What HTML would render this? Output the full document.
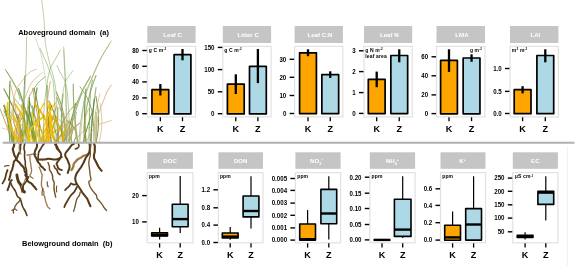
<!DOCTYPE html>
<html><head><meta charset="utf-8"><style>
html,body{margin:0;padding:0;background:#fff;width:575px;height:266px;overflow:hidden;position:relative;font-family:"Liberation Sans", sans-serif;}
</style></head><body>
<svg width="575" height="266" viewBox="0 0 575 266" style="position:absolute;left:0;top:0;will-change:transform" font-family='"Liberation Sans", sans-serif'>
<rect width="575" height="266" fill="#fff"/>
<g fill="none" stroke-linecap="round">
<path d="M-0.8,106.8 C-0.2,108.3 1.6,112.7 2.8,115.6 C4.0,118.5 5.1,121.5 6.2,124.4 C7.3,127.3 8.4,130.3 9.4,133.2 C10.3,136.1 11.4,140.5 11.8,142.0" stroke="#a08a3a" stroke-width="0.9" stroke-opacity="0.85"/>
<path d="M88.4,108.9 C87.9,110.3 86.3,114.4 85.5,117.2 C84.7,119.9 84.1,122.7 83.8,125.5 C83.4,128.2 83.4,131.0 83.6,133.7 C83.7,136.5 84.5,140.6 84.7,142.0" stroke="#d8b278" stroke-width="1.0" stroke-opacity="0.9"/>
<path d="M14.5,100.7 C14.3,102.4 13.3,107.6 13.1,111.0 C13.0,114.5 13.0,117.9 13.7,121.3 C14.3,124.8 15.7,128.2 17.1,131.7 C18.5,135.1 21.2,140.3 22.1,142.0" stroke="#b09040" stroke-width="1.1" stroke-opacity="0.85"/>
<path d="M56.3,91.8 C57.1,93.9 59.7,100.2 61.0,104.3 C62.3,108.5 63.4,112.7 64.0,116.9 C64.7,121.1 64.9,125.3 64.8,129.4 C64.8,133.6 63.8,139.9 63.6,142.0" stroke="#72983c" stroke-width="1.0" stroke-opacity="0.95"/>
<path d="M32.3,106.0 C32.7,107.5 33.9,112.0 34.4,115.0 C35.0,118.0 35.5,121.0 35.8,124.0 C36.1,127.0 36.2,130.0 36.1,133.0 C36.1,136.0 35.7,140.5 35.6,142.0" stroke="#98b070" stroke-width="1.2" stroke-opacity="0.95"/>
<path d="M25.5,113.5 C24.7,114.7 21.7,118.3 20.3,120.6 C18.9,123.0 17.7,125.4 17.0,127.8 C16.3,130.1 16.1,132.5 16.2,134.9 C16.3,137.3 17.5,140.8 17.7,142.0" stroke="#b09040" stroke-width="1.1" stroke-opacity="0.85"/>
<path d="M57.8,107.6 C57.8,109.0 57.7,113.3 57.7,116.2 C57.7,119.1 57.7,121.9 57.8,124.8 C57.9,127.7 58.1,130.5 58.3,133.4 C58.4,136.3 58.8,140.6 58.8,142.0" stroke="#8c8a40" stroke-width="1.1" stroke-opacity="0.85"/>
<path d="M34.1,88.2 C34.6,90.4 36.2,97.2 37.1,101.6 C37.9,106.1 38.6,110.6 39.0,115.1 C39.5,119.6 39.6,124.1 39.6,128.5 C39.6,133.0 39.1,139.8 39.0,142.0" stroke="#72983c" stroke-width="1.1" stroke-opacity="0.95"/>
<path d="M96.0,75.5 C95.1,78.2 91.9,86.6 90.3,92.1 C88.7,97.6 87.4,103.2 86.4,108.7 C85.5,114.3 85.0,119.8 84.8,125.4 C84.6,130.9 85.3,139.2 85.4,142.0" stroke="#98b070" stroke-width="1.1" stroke-opacity="0.95"/>
<path d="M3.8,104.0 C5.0,105.6 9.1,110.3 11.3,113.5 C13.4,116.6 15.3,119.8 16.6,123.0 C18.0,126.2 18.9,129.3 19.3,132.5 C19.7,135.7 19.1,140.4 19.1,142.0" stroke="#d8b278" stroke-width="0.8" stroke-opacity="0.9"/>
<path d="M59.0,119.0 C59.7,120.0 61.8,122.9 62.7,124.8 C63.7,126.7 64.5,128.6 64.9,130.5 C65.3,132.4 65.3,134.3 65.0,136.3 C64.7,138.2 63.6,141.0 63.4,142.0" stroke="#d8b278" stroke-width="0.8" stroke-opacity="0.9"/>
<path d="M75.5,103.7 C75.1,105.3 74.0,110.1 73.2,113.3 C72.3,116.4 71.5,119.6 70.5,122.8 C69.5,126.0 68.3,129.2 67.2,132.4 C66.1,135.6 64.6,140.4 64.1,142.0" stroke="#72983c" stroke-width="1.2" stroke-opacity="0.95"/>
<path d="M37.1,87.8 C36.7,90.1 35.6,96.9 35.1,101.4 C34.5,105.9 33.9,110.4 33.6,114.9 C33.2,119.4 32.9,123.9 32.7,128.5 C32.6,133.0 32.7,139.7 32.6,142.0" stroke="#72983c" stroke-width="1.2" stroke-opacity="0.95"/>
<path d="M48.8,101.1 C49.6,102.8 52.2,107.9 53.5,111.3 C54.8,114.7 56.0,118.1 56.6,121.6 C57.3,125.0 57.6,128.4 57.6,131.8 C57.5,135.2 56.7,140.3 56.5,142.0" stroke="#72983c" stroke-width="1.2" stroke-opacity="0.95"/>
<path d="M72.4,122.1 C72.5,123.0 72.9,125.4 72.9,127.1 C72.9,128.8 72.8,130.4 72.5,132.1 C72.1,133.7 71.5,135.4 70.8,137.0 C70.2,138.7 69.0,141.2 68.6,142.0" stroke="#c49650" stroke-width="1.1" stroke-opacity="0.9"/>
<path d="M50.3,107.5 C50.0,109.0 49.1,113.3 48.7,116.1 C48.4,119.0 48.1,121.9 48.0,124.8 C47.9,127.6 48.0,130.5 48.2,133.4 C48.4,136.3 49.0,140.6 49.2,142.0" stroke="#c49650" stroke-width="0.8" stroke-opacity="0.9"/>
<path d="M20.4,111.4 C20.0,112.7 18.4,116.5 18.0,119.1 C17.6,121.6 17.3,124.2 17.8,126.7 C18.3,129.3 19.5,131.8 20.8,134.4 C22.2,136.9 25.0,140.7 25.9,142.0" stroke="#a08a3a" stroke-width="0.9" stroke-opacity="0.85"/>
<path d="M35.3,123.8 C36.0,124.5 38.5,126.8 39.7,128.3 C40.9,129.8 41.9,131.4 42.5,132.9 C43.1,134.4 43.2,135.9 43.1,137.4 C43.0,139.0 42.1,141.2 41.9,142.0" stroke="#d8b278" stroke-width="1.1" stroke-opacity="0.9"/>
<path d="M96.0,87.6 C95.7,89.9 94.8,96.7 94.2,101.2 C93.7,105.7 93.1,110.3 92.7,114.8 C92.2,119.3 91.7,123.9 91.4,128.4 C91.1,132.9 90.8,139.7 90.6,142.0" stroke="#98b070" stroke-width="1.1" stroke-opacity="0.95"/>
<path d="M59.9,108.1 C60.5,109.5 62.3,113.7 63.3,116.6 C64.2,119.4 65.1,122.2 65.6,125.0 C66.1,127.9 66.4,130.7 66.5,133.5 C66.6,136.3 66.2,140.6 66.1,142.0" stroke="#d8b278" stroke-width="1.1" stroke-opacity="0.9"/>
<path d="M59.1,128.7 C58.2,129.2 55.4,130.9 53.8,132.0 C52.2,133.1 50.7,134.2 49.4,135.3 C48.0,136.4 46.8,137.6 45.9,138.7 C45.0,139.8 44.3,141.4 44.0,142.0" stroke="#f2c000" stroke-width="1.8" stroke-opacity="0.95"/>
<path d="M43.7,103.5 C43.0,105.1 40.5,109.9 39.3,113.1 C38.1,116.3 37.1,119.5 36.4,122.7 C35.8,125.9 35.5,129.2 35.4,132.4 C35.4,135.6 36.1,140.4 36.3,142.0" stroke="#f2c000" stroke-width="1.2" stroke-opacity="0.95"/>
<path d="M49.4,102.8 C49.5,104.4 50.1,109.3 50.1,112.6 C50.1,115.8 50.0,119.1 49.4,122.4 C48.8,125.7 47.6,128.9 46.4,132.2 C45.2,135.5 43.0,140.4 42.3,142.0" stroke="#f2c000" stroke-width="1.8" stroke-opacity="0.95"/>
<path d="M21.8,105.7 C22.7,107.2 25.5,111.8 27.0,114.8 C28.6,117.8 30.0,120.8 31.0,123.9 C32.1,126.9 32.9,129.9 33.4,132.9 C33.8,136.0 33.8,140.5 33.9,142.0" stroke="#f2c000" stroke-width="1.8" stroke-opacity="0.95"/>
<path d="M64.6,131.8 C64.1,132.2 62.6,133.5 61.7,134.4 C60.9,135.2 60.1,136.1 59.6,136.9 C59.0,137.8 58.6,138.6 58.3,139.5 C58.0,140.3 58.1,141.6 58.0,142.0" stroke="#e8b206" stroke-width="1.8" stroke-opacity="0.95"/>
<path d="M8.0,126.1 C8.5,126.7 10.0,128.7 11.1,130.0 C12.2,131.4 13.2,132.7 14.4,134.0 C15.6,135.4 17.1,136.7 18.3,138.0 C19.6,139.3 21.3,141.3 21.9,142.0" stroke="#f2c000" stroke-width="1.8" stroke-opacity="0.95"/>
<path d="M15.3,104.2 C16.3,105.7 19.3,110.5 21.1,113.6 C22.8,116.8 24.3,119.9 25.5,123.1 C26.8,126.2 27.8,129.4 28.4,132.5 C29.1,135.7 29.3,140.4 29.5,142.0" stroke="#f2c000" stroke-width="1.8" stroke-opacity="0.95"/>
<path d="M13.4,115.0 C13.9,116.1 15.5,119.5 16.3,121.7 C17.1,124.0 17.9,126.2 18.4,128.5 C18.9,130.7 19.3,133.0 19.4,135.2 C19.6,137.5 19.4,140.9 19.4,142.0" stroke="#f2c000" stroke-width="1.5" stroke-opacity="0.95"/>
<path d="M48.5,113.2 C49.6,114.4 53.2,118.0 55.1,120.4 C57.1,122.8 58.8,125.2 60.0,127.6 C61.2,130.0 62.1,132.4 62.6,134.8 C63.0,137.2 62.7,140.8 62.7,142.0" stroke="#e8b206" stroke-width="1.8" stroke-opacity="0.95"/>
<path d="M53.7,117.2 C53.0,118.2 50.6,121.3 49.3,123.4 C47.9,125.5 46.6,127.5 45.5,129.6 C44.3,131.7 43.2,133.7 42.4,135.8 C41.6,137.9 40.9,141.0 40.6,142.0" stroke="#e8b206" stroke-width="1.5" stroke-opacity="0.95"/>
<path d="M82.0,92.5 C81.3,94.6 79.0,100.8 77.6,104.9 C76.3,109.0 75.0,113.1 73.8,117.3 C72.6,121.4 71.4,125.5 70.6,129.6 C69.7,133.8 68.8,139.9 68.4,142.0" stroke="#98b070" stroke-width="1.1" stroke-opacity="0.95"/>
<path d="M47.1,85.6 C47.1,88.0 47.0,95.0 47.1,99.7 C47.2,104.4 47.3,109.1 47.7,113.8 C48.0,118.5 48.6,123.2 49.2,127.9 C49.7,132.6 50.8,139.7 51.1,142.0" stroke="#5a8430" stroke-width="1.0" stroke-opacity="0.95"/>
<path d="M64.1,113.3 C64.0,114.5 63.9,118.1 64.0,120.5 C64.0,122.9 64.1,125.3 64.3,127.7 C64.6,130.1 65.0,132.4 65.4,134.8 C65.8,137.2 66.5,140.8 66.7,142.0" stroke="#d8b278" stroke-width="1.0" stroke-opacity="0.9"/>
<path d="M54.6,122.8 C54.4,123.6 53.8,126.0 53.3,127.6 C52.8,129.2 52.2,130.8 51.5,132.4 C50.9,134.0 50.0,135.6 49.2,137.2 C48.4,138.8 47.1,141.2 46.7,142.0" stroke="#d8b278" stroke-width="1.1" stroke-opacity="0.9"/>
<path d="M10.7,84.9 C11.2,87.2 13.0,94.4 13.9,99.1 C14.8,103.9 15.7,108.7 16.3,113.4 C17.0,118.2 17.5,123.0 17.8,127.7 C18.1,132.5 18.0,139.6 18.1,142.0" stroke="#d8b278" stroke-width="1.0" stroke-opacity="0.9"/>
<path d="M76.9,102.4 C75.5,104.1 70.9,109.0 68.6,112.3 C66.3,115.6 64.3,118.9 63.1,122.2 C61.9,125.5 61.4,128.8 61.5,132.1 C61.5,135.4 63.0,140.4 63.4,142.0" stroke="#a08a3a" stroke-width="0.9" stroke-opacity="0.85"/>
<path d="M56.4,106.1 C55.9,107.6 54.7,112.1 53.8,115.1 C53.0,118.1 52.1,121.1 51.2,124.1 C50.3,127.1 49.2,130.0 48.3,133.0 C47.4,136.0 46.2,140.5 45.8,142.0" stroke="#c49650" stroke-width="1.0" stroke-opacity="0.9"/>
<path d="M51.8,105.2 C51.3,106.7 49.5,111.3 48.9,114.4 C48.3,117.4 48.0,120.5 48.3,123.6 C48.6,126.7 49.7,129.7 50.9,132.8 C52.2,135.9 54.9,140.5 55.6,142.0" stroke="#8c8a40" stroke-width="1.1" stroke-opacity="0.85"/>
<path d="M32.9,110.7 C32.7,112.0 31.9,115.9 31.6,118.5 C31.3,121.1 31.0,123.7 31.0,126.3 C31.1,128.9 31.3,131.6 31.7,134.2 C32.0,136.8 32.9,140.7 33.2,142.0" stroke="#72983c" stroke-width="1.0" stroke-opacity="0.95"/>
<path d="M94.3,98.8 C94.1,100.6 93.5,106.0 93.2,109.6 C92.8,113.2 92.5,116.8 92.2,120.4 C91.9,124.0 91.6,127.6 91.4,131.2 C91.2,134.8 91.1,140.2 91.0,142.0" stroke="#5a8430" stroke-width="1.1" stroke-opacity="0.95"/>
<path d="M28.7,106.7 C29.0,108.2 29.9,112.6 30.6,115.6 C31.2,118.5 31.8,121.4 32.4,124.4 C33.0,127.3 33.7,130.2 34.3,133.2 C34.9,136.1 35.6,140.5 35.9,142.0" stroke="#5a8430" stroke-width="1.2" stroke-opacity="0.95"/>
<path d="M66.4,120.1 C67.4,121.0 70.6,123.7 72.1,125.5 C73.6,127.4 74.9,129.2 75.6,131.0 C76.2,132.9 76.3,134.7 76.0,136.5 C75.7,138.3 74.1,141.1 73.8,142.0" stroke="#a08a3a" stroke-width="1.1" stroke-opacity="0.85"/>
<path d="M100.0,103.3 C100.2,104.9 101.1,109.8 101.4,113.0 C101.7,116.2 101.9,119.4 101.9,122.7 C101.8,125.9 101.5,129.1 101.1,132.3 C100.7,135.6 99.7,140.4 99.4,142.0" stroke="#d8b278" stroke-width="0.8" stroke-opacity="0.9"/>
<path d="M69.3,123.2 C69.1,124.0 68.5,126.4 68.4,127.9 C68.2,129.5 68.2,131.1 68.4,132.6 C68.7,134.2 69.2,135.7 69.9,137.3 C70.5,138.9 71.7,141.2 72.1,142.0" stroke="#d8b278" stroke-width="1.0" stroke-opacity="0.9"/>
<path d="M24.3,106.7 C24.7,108.2 26.3,112.6 26.8,115.6 C27.3,118.5 27.6,121.4 27.2,124.4 C26.8,127.3 25.6,130.2 24.3,133.2 C23.0,136.1 20.2,140.5 19.4,142.0" stroke="#8c8a40" stroke-width="1.1" stroke-opacity="0.85"/>
<path d="M69.8,120.1 C69.7,121.0 69.5,123.8 69.4,125.6 C69.3,127.4 69.3,129.2 69.3,131.1 C69.2,132.9 69.3,134.7 69.3,136.5 C69.4,138.4 69.6,141.1 69.6,142.0" stroke="#d8b278" stroke-width="1.0" stroke-opacity="0.9"/>
<path d="M92.6,111.5 C92.1,112.8 90.8,116.6 90.0,119.1 C89.1,121.7 88.3,124.2 87.5,126.7 C86.7,129.3 85.8,131.8 85.1,134.4 C84.4,136.9 83.6,140.7 83.3,142.0" stroke="#5a8430" stroke-width="1.0" stroke-opacity="0.95"/>
<path d="M17.8,114.2 C18.0,115.4 18.8,118.9 19.1,121.2 C19.5,123.5 19.9,125.8 20.1,128.1 C20.3,130.4 20.5,132.7 20.6,135.1 C20.6,137.4 20.6,140.8 20.6,142.0" stroke="#a08a3a" stroke-width="1.1" stroke-opacity="0.85"/>
<path d="M47.8,112.4 C47.9,113.6 48.2,117.3 48.5,119.8 C48.7,122.2 49.0,124.7 49.4,127.2 C49.7,129.6 50.2,132.1 50.6,134.6 C51.0,137.1 51.5,140.8 51.7,142.0" stroke="#b09040" stroke-width="0.9" stroke-opacity="0.85"/>
<path d="M29.6,102.2 C30.2,103.8 32.4,108.8 33.6,112.1 C34.8,115.5 36.0,118.8 36.9,122.1 C37.9,125.4 38.8,128.7 39.4,132.0 C40.1,135.4 40.5,140.3 40.7,142.0" stroke="#98b070" stroke-width="1.1" stroke-opacity="0.95"/>
<path d="M24.8,75.9 C24.7,78.7 24.3,87.0 24.1,92.5 C23.9,98.0 23.7,103.5 23.5,109.0 C23.3,114.5 23.1,120.0 22.9,125.5 C22.8,131.0 22.6,139.2 22.5,142.0" stroke="#5a8430" stroke-width="0.9" stroke-opacity="0.95"/>
<path d="M32.7,88.2 C33.1,90.4 34.1,97.1 34.9,101.6 C35.7,106.1 36.5,110.6 37.5,115.1 C38.5,119.6 39.7,124.1 40.8,128.5 C41.9,133.0 43.5,139.8 44.0,142.0" stroke="#c49650" stroke-width="1.0" stroke-opacity="0.9"/>
<path d="M65.2,118.0 C64.6,119.0 62.7,122.0 61.7,124.0 C60.7,126.0 59.8,128.0 59.2,130.0 C58.6,132.0 58.2,134.0 58.0,136.0 C57.9,138.0 58.2,141.0 58.2,142.0" stroke="#c49650" stroke-width="1.1" stroke-opacity="0.9"/>
<path d="M96.0,112.3 C96.0,113.5 96.1,117.2 96.1,119.7 C96.1,122.2 96.1,124.7 96.1,127.1 C96.1,129.6 96.0,132.1 96.0,134.6 C96.0,137.0 95.9,140.8 95.9,142.0" stroke="#72983c" stroke-width="1.0" stroke-opacity="0.95"/>
<path d="M73.3,84.0 C73.3,86.4 73.3,93.6 73.5,98.5 C73.7,103.3 73.9,108.1 74.3,113.0 C74.7,117.8 75.3,122.7 75.9,127.5 C76.5,132.3 77.5,139.6 77.8,142.0" stroke="#98b070" stroke-width="1.2" stroke-opacity="0.95"/>
<path d="M29.3,100.9 C29.3,102.6 29.4,107.8 29.2,111.2 C28.9,114.6 28.5,118.0 27.7,121.5 C26.9,124.9 25.5,128.3 24.2,131.7 C22.9,135.2 20.6,140.3 19.9,142.0" stroke="#8c8a40" stroke-width="1.1" stroke-opacity="0.85"/>
<path d="M79.6,123.1 C78.8,123.9 76.0,126.2 74.4,127.8 C72.8,129.4 71.3,131.0 70.0,132.5 C68.6,134.1 67.3,135.7 66.4,137.3 C65.4,138.8 64.6,141.2 64.2,142.0" stroke="#c49650" stroke-width="1.1" stroke-opacity="0.9"/>
<path d="M16.5,115.0 C16.9,116.2 18.2,119.5 18.7,121.8 C19.3,124.0 19.7,126.3 19.8,128.5 C19.9,130.8 19.6,133.0 19.2,135.3 C18.7,137.5 17.6,140.9 17.3,142.0" stroke="#b09040" stroke-width="0.9" stroke-opacity="0.85"/>
<path d="M29.5,97.8 C29.5,99.6 29.3,105.1 29.3,108.8 C29.2,112.5 29.2,116.2 29.1,119.9 C29.1,123.6 29.2,127.3 29.2,130.9 C29.2,134.6 29.3,140.2 29.4,142.0" stroke="#5a8430" stroke-width="1.0" stroke-opacity="0.95"/>
<path d="M63.2,94.0 C63.0,96.0 62.2,102.0 61.9,106.0 C61.6,110.0 61.5,114.0 61.6,118.0 C61.7,122.0 62.1,126.0 62.6,130.0 C63.0,134.0 64.1,140.0 64.4,142.0" stroke="#98b070" stroke-width="1.1" stroke-opacity="0.95"/>
<path d="M96.0,96.6 C96.3,98.5 97.4,104.1 97.8,107.9 C98.2,111.7 98.6,115.5 98.6,119.3 C98.6,123.1 98.3,126.9 98.0,130.6 C97.6,134.4 96.6,140.1 96.3,142.0" stroke="#5a8430" stroke-width="0.9" stroke-opacity="0.95"/>
<path d="M4.0,110.6 C4.5,111.9 6.3,115.9 7.3,118.5 C8.3,121.1 9.2,123.7 10.0,126.3 C10.8,128.9 11.5,131.5 12.0,134.2 C12.5,136.8 12.8,140.7 13.0,142.0" stroke="#72983c" stroke-width="1.0" stroke-opacity="0.95"/>
<path d="M100.0,93.8 C99.5,95.8 97.7,101.9 96.8,105.9 C96.0,109.9 95.2,113.9 94.8,117.9 C94.5,121.9 94.4,125.9 94.5,130.0 C94.6,134.0 95.3,140.0 95.5,142.0" stroke="#d8b278" stroke-width="0.8" stroke-opacity="0.9"/>
<path d="M95.8,124.4 C94.4,125.1 89.9,127.3 87.4,128.8 C85.0,130.3 82.8,131.7 81.1,133.2 C79.5,134.7 78.3,136.1 77.6,137.6 C76.8,139.1 77.0,141.3 76.9,142.0" stroke="#d8b278" stroke-width="0.8" stroke-opacity="0.9"/>
<path d="M76.2,112.4 C76.0,113.6 75.5,117.3 75.3,119.8 C75.1,122.3 75.0,124.7 75.1,127.2 C75.3,129.7 75.6,132.1 76.1,134.6 C76.5,137.1 77.4,140.8 77.6,142.0" stroke="#98b070" stroke-width="1.0" stroke-opacity="0.95"/>
<path d="M4.0,105.8 C4.7,107.3 6.8,111.8 7.9,114.9 C9.1,117.9 10.2,120.9 11.0,123.9 C11.9,126.9 12.6,129.9 13.0,133.0 C13.4,136.0 13.6,140.5 13.7,142.0" stroke="#72983c" stroke-width="1.1" stroke-opacity="0.95"/>
<path d="M10.0,81.2 C9.9,83.8 9.6,91.4 9.5,96.4 C9.5,101.5 9.5,106.6 9.6,111.6 C9.8,116.7 10.2,121.7 10.7,126.8 C11.1,131.9 12.0,139.5 12.2,142.0" stroke="#72983c" stroke-width="1.2" stroke-opacity="0.95"/>
<path d="M14.3,98.1 C15.7,100.0 20.2,105.4 22.7,109.1 C25.2,112.7 27.5,116.4 29.3,120.1 C31.1,123.7 32.6,127.4 33.6,131.0 C34.6,134.7 34.9,140.2 35.1,142.0" stroke="#98b070" stroke-width="0.9" stroke-opacity="0.95"/>
<path d="M18.5,88.4 C19.3,90.7 21.6,97.4 23.0,101.8 C24.5,106.3 25.9,110.8 27.4,115.2 C28.8,119.7 30.3,124.1 31.6,128.6 C32.9,133.1 34.3,139.8 34.9,142.0" stroke="#72983c" stroke-width="1.1" stroke-opacity="0.95"/>
<path d="M4.0,88.9 C5.1,91.1 8.7,97.8 10.7,102.2 C12.8,106.6 14.7,111.0 16.4,115.5 C18.1,119.9 19.6,124.3 20.8,128.7 C21.9,133.2 22.8,139.8 23.2,142.0" stroke="#72983c" stroke-width="1.2" stroke-opacity="0.95"/>
<path d="M4.0,105.5 C4.4,107.0 5.7,111.6 6.4,114.6 C7.1,117.7 7.8,120.7 8.2,123.8 C8.7,126.8 9.1,129.8 9.3,132.9 C9.6,135.9 9.6,140.5 9.6,142.0" stroke="#72983c" stroke-width="1.2" stroke-opacity="0.95"/>
<path d="M56.8,97.2 C57.4,99.1 59.4,104.7 60.6,108.4 C61.7,112.2 62.7,115.9 63.6,119.6 C64.4,123.3 65.1,127.1 65.6,130.8 C66.1,134.5 66.3,140.1 66.5,142.0" stroke="#98b070" stroke-width="1.1" stroke-opacity="0.95"/>
<path d="M50.3,81.6 C49.9,84.1 48.5,91.7 47.9,96.7 C47.4,101.7 46.9,106.8 46.8,111.8 C46.6,116.8 46.8,121.9 47.1,126.9 C47.4,131.9 48.4,139.5 48.7,142.0" stroke="#d8b278" stroke-width="1.1" stroke-opacity="0.9"/>
<path d="M53.4,125.6 C53.7,126.2 54.4,128.3 54.9,129.7 C55.4,131.0 55.8,132.4 56.3,133.8 C56.8,135.2 57.3,136.5 57.7,137.9 C58.1,139.3 58.6,141.3 58.8,142.0" stroke="#a08a3a" stroke-width="0.9" stroke-opacity="0.85"/>
<path d="M90.5,76.3 C89.0,79.0 84.0,87.2 81.4,92.7 C78.8,98.2 76.5,103.7 74.8,109.1 C73.2,114.6 72.0,120.1 71.5,125.6 C70.9,131.0 71.4,139.3 71.4,142.0" stroke="#98b070" stroke-width="1.2" stroke-opacity="0.95"/>
<path d="M85.9,89.2 C85.8,91.4 85.2,98.0 84.9,102.4 C84.7,106.8 84.6,111.2 84.6,115.6 C84.6,120.0 84.8,124.4 85.1,128.8 C85.3,133.2 86.0,139.8 86.2,142.0" stroke="#72983c" stroke-width="1.2" stroke-opacity="0.95"/>
<path d="M25.5,109.1 C24.6,110.4 21.6,114.6 20.0,117.3 C18.5,120.0 17.1,122.8 16.2,125.5 C15.3,128.3 14.7,131.0 14.5,133.8 C14.2,136.5 14.8,140.6 14.8,142.0" stroke="#e8b206" stroke-width="1.2" stroke-opacity="0.95"/>
<path d="M51.7,115.6 C51.5,116.7 50.6,120.0 50.4,122.2 C50.2,124.4 50.1,126.6 50.4,128.8 C50.7,131.0 51.4,133.2 52.2,135.4 C53.1,137.6 54.7,140.9 55.2,142.0" stroke="#f2c000" stroke-width="1.8" stroke-opacity="0.95"/>
<path d="M13.2,119.2 C14.5,120.1 18.9,123.0 21.2,124.9 C23.5,126.8 25.4,128.7 26.7,130.6 C28.0,132.5 28.8,134.4 29.0,136.3 C29.2,138.2 28.2,141.0 28.0,142.0" stroke="#f2c000" stroke-width="1.2" stroke-opacity="0.95"/>
<path d="M44.7,115.9 C43.3,117.0 38.8,120.2 36.5,122.4 C34.1,124.6 32.1,126.8 30.8,128.9 C29.5,131.1 28.9,133.3 28.7,135.5 C28.6,137.6 29.7,140.9 29.9,142.0" stroke="#f2c000" stroke-width="1.8" stroke-opacity="0.95"/>
<path d="M34.5,103.6 C35.7,105.2 39.8,110.0 41.8,113.2 C43.8,116.4 45.6,119.6 46.5,122.8 C47.5,126.0 47.8,129.2 47.7,132.4 C47.5,135.6 46.0,140.4 45.7,142.0" stroke="#e8b206" stroke-width="1.8" stroke-opacity="0.95"/>
<path d="M23.6,131.2 C23.7,131.6 24.0,133.0 23.9,133.9 C23.9,134.8 23.7,135.7 23.3,136.6 C22.8,137.5 22.0,138.4 21.2,139.3 C20.4,140.2 18.8,141.5 18.3,142.0" stroke="#e8b206" stroke-width="1.8" stroke-opacity="0.95"/>
<path d="M31.8,112.6 C32.1,113.9 33.1,117.5 33.7,120.0 C34.4,122.4 35.1,124.9 35.8,127.3 C36.5,129.8 37.4,132.2 38.2,134.7 C38.9,137.1 39.9,140.8 40.3,142.0" stroke="#f3cb30" stroke-width="1.5" stroke-opacity="0.95"/>
<path d="M24.9,123.7 C24.9,124.4 24.9,126.7 25.1,128.3 C25.3,129.8 25.5,131.3 25.9,132.8 C26.3,134.4 26.9,135.9 27.5,137.4 C28.1,138.9 29.1,141.2 29.4,142.0" stroke="#f2c000" stroke-width="1.5" stroke-opacity="0.95"/>
<path d="M37.5,119.8 C37.7,120.7 38.2,123.5 38.4,125.3 C38.5,127.2 38.6,129.0 38.4,130.9 C38.2,132.7 37.7,134.6 37.2,136.4 C36.6,138.3 35.5,141.1 35.2,142.0" stroke="#f2c000" stroke-width="1.2" stroke-opacity="0.95"/>
<path d="M7.7,103.0 C7.7,104.6 7.6,109.5 7.9,112.7 C8.2,116.0 8.6,119.2 9.4,122.5 C10.3,125.7 11.6,129.0 12.9,132.2 C14.2,135.5 16.5,140.4 17.2,142.0" stroke="#f2c000" stroke-width="1.8" stroke-opacity="0.95"/>
<path d="M46.9,102.0 C47.4,103.7 49.2,108.7 50.0,112.0 C50.7,115.3 51.3,118.7 51.4,122.0 C51.5,125.3 51.1,128.7 50.5,132.0 C49.9,135.3 48.3,140.3 47.8,142.0" stroke="#f2c000" stroke-width="1.5" stroke-opacity="0.95"/>
<path d="M21.9,105.0 C22.2,106.5 22.9,111.2 23.6,114.2 C24.2,117.3 24.9,120.4 25.9,123.5 C26.9,126.6 28.2,129.7 29.3,132.7 C30.5,135.8 32.4,140.5 33.0,142.0" stroke="#f3cb30" stroke-width="1.5" stroke-opacity="0.95"/>
<path d="M57.4,116.1 C56.8,117.2 54.8,120.4 54.0,122.6 C53.2,124.7 52.5,126.9 52.3,129.0 C52.2,131.2 52.6,133.4 53.1,135.5 C53.7,137.7 55.3,140.9 55.7,142.0" stroke="#e8b206" stroke-width="1.5" stroke-opacity="0.95"/>
<path d="M55.4,103.0 C54.4,104.6 51.3,109.5 49.6,112.7 C47.9,116.0 46.4,119.2 45.3,122.5 C44.2,125.7 43.4,129.0 43.0,132.2 C42.6,135.5 42.8,140.4 42.7,142.0" stroke="#f3cb30" stroke-width="1.5" stroke-opacity="0.95"/>
<path d="M68.2,122.6 C67.8,123.4 66.6,125.9 66.0,127.5 C65.3,129.1 64.7,130.7 64.2,132.3 C63.7,133.9 63.3,135.5 63.1,137.2 C62.8,138.8 62.7,141.2 62.7,142.0" stroke="#e8b206" stroke-width="1.2" stroke-opacity="0.95"/>
<path d="M48.0,111.7 C47.8,113.0 47.0,116.8 46.7,119.3 C46.4,121.8 46.2,124.3 46.4,126.9 C46.5,129.4 46.9,131.9 47.5,134.4 C48.0,137.0 49.1,140.7 49.5,142.0" stroke="#e8b206" stroke-width="1.2" stroke-opacity="0.95"/>
<path d="M41.7,0.0 C42.1,3.3 43.4,13.3 44.0,20.0 C44.6,26.7 44.6,34.7 45.1,40.0 C45.6,45.3 46.1,47.8 47.0,52.0 C47.9,56.2 48.8,59.9 50.2,65.4 C51.6,70.9 54.1,77.6 55.2,85.0 C56.3,92.4 56.5,100.7 57.0,110.0 C57.5,119.3 57.8,135.8 58.0,141.0" stroke="#98b070" stroke-width="0.77" stroke-opacity="0.8"/>
<path d="M40.0,48.5 C41.1,51.0 44.8,58.9 46.8,63.7 C48.8,68.5 50.7,73.7 51.8,77.2 C52.9,80.8 53.0,79.5 53.5,85.0 C54.0,90.5 54.8,100.7 55.0,110.0 C55.2,119.3 55.0,135.8 55.0,141.0" stroke="#72983c" stroke-width="0.77" stroke-opacity="0.68"/>
<path d="M60.3,50.2 C59.4,51.8 56.7,56.9 55.0,60.0 C53.3,63.1 51.6,64.6 50.2,68.8 C48.8,73.0 47.8,78.1 46.8,85.0 C45.8,91.9 44.6,100.7 44.0,110.0 C43.4,119.3 43.2,135.8 43.0,141.0" stroke="#72983c" stroke-width="0.77" stroke-opacity="0.68"/>
<path d="M63.7,50.2 C63.8,53.0 64.2,61.2 64.5,67.0 C64.8,72.8 65.2,77.8 65.4,85.0 C65.7,92.2 65.7,100.7 66.0,110.0 C66.3,119.3 66.8,135.8 67.0,141.0" stroke="#98b070" stroke-width="0.77" stroke-opacity="0.8"/>
<path d="M57.0,65.4 C57.7,66.8 59.6,71.2 61.0,74.0 C62.4,76.8 64.2,78.0 65.4,82.3 C66.6,86.6 67.2,90.2 68.0,100.0 C68.8,109.8 69.7,134.2 70.0,141.0" stroke="#72983c" stroke-width="0.77" stroke-opacity="0.64"/>
<path d="M73.0,70.5 C72.3,71.4 70.3,74.0 69.0,76.0 C67.7,78.0 66.6,78.3 65.4,82.3 C64.2,86.3 62.7,90.2 62.0,100.0 C61.3,109.8 61.2,134.2 61.0,141.0" stroke="#72983c" stroke-width="0.77" stroke-opacity="0.64"/>
<path d="M26.6,37.0 C26.5,40.8 26.4,53.3 26.2,60.0 C26.0,66.7 25.7,69.5 25.4,77.0 C25.1,84.5 24.7,94.3 24.5,105.0 C24.3,115.7 24.1,135.0 24.0,141.0" stroke="#98b070" stroke-width="0.85" stroke-opacity="0.8"/>
<path d="M5.1,69.3 C6.1,70.8 9.2,75.0 11.0,78.0 C12.8,81.0 14.3,83.5 16.0,87.0 C17.7,90.5 20.1,95.9 21.2,98.9 C22.3,101.9 22.2,100.7 22.8,105.0 C23.4,109.3 24.5,119.0 25.0,125.0 C25.5,131.0 25.8,138.3 26.0,141.0" stroke="#72983c" stroke-width="0.94" stroke-opacity="0.8"/>
<path d="M6.8,71.8 C7.7,73.3 10.3,78.0 12.0,81.0 C13.7,84.0 15.6,86.4 16.9,89.6 C18.2,92.8 19.5,98.3 20.0,100.0" stroke="#72983c" stroke-width="0.77" stroke-opacity="0.64"/>
<path d="M36.4,69.3 C35.3,69.8 31.8,70.7 30.0,72.0 C28.2,73.3 27.2,74.8 25.4,77.0 C23.6,79.2 20.6,82.8 19.0,85.0 C17.4,87.2 17.1,87.2 16.0,90.5 C14.9,93.8 13.5,99.2 12.7,105.0 C11.9,110.8 11.4,119.0 11.0,125.0 C10.6,131.0 10.2,138.3 10.0,141.0" stroke="#d8b278" stroke-width="0.94" stroke-opacity="0.8"/>
<path d="M42.3,72.7 C41.4,73.4 38.7,75.5 37.0,77.0 C35.3,78.5 33.6,79.8 32.1,82.0 C30.6,84.2 29.1,87.5 28.0,90.0 C26.9,92.5 26.4,94.7 25.4,97.2 C24.4,99.7 22.9,100.4 22.0,105.0 C21.1,109.6 20.5,119.0 20.0,125.0 C19.5,131.0 19.2,138.3 19.0,141.0" stroke="#d8b278" stroke-width="0.94" stroke-opacity="0.8"/>
<path d="M44.8,77.0 C43.8,77.8 40.8,80.0 39.0,82.0 C37.2,84.0 35.5,86.3 33.8,88.8 C32.1,91.3 30.0,94.3 29.0,97.0 C28.0,99.7 28.2,100.3 27.9,105.0 C27.6,109.7 27.1,119.0 27.0,125.0 C26.9,131.0 27.0,138.3 27.0,141.0" stroke="#72983c" stroke-width="0.85" stroke-opacity="0.8"/>
<path d="M111.3,41.0 C109.6,43.8 104.2,51.7 101.0,58.0 C97.8,64.3 94.3,72.7 91.8,78.9 C89.2,85.1 87.5,88.2 85.7,95.0 C83.9,101.8 82.1,112.3 81.0,120.0 C79.9,127.7 79.3,137.5 79.0,141.0" stroke="#90a860" stroke-width="0.85" stroke-opacity="0.8"/>
<path d="M109.5,44.0 C107.8,46.8 102.7,54.8 99.5,61.0 C96.3,67.2 93.0,74.8 90.5,81.0 C88.0,87.2 86.2,88.0 84.5,98.0 C82.8,108.0 80.8,133.8 80.0,141.0" stroke="#98b070" stroke-width="0.68" stroke-opacity="0.8"/>
<path d="M63.7,47.0 C63.9,50.8 64.6,62.0 65.0,70.0 C65.4,78.0 65.7,86.7 66.0,95.0 C66.3,103.3 66.7,112.3 67.0,120.0 C67.3,127.7 67.8,137.5 68.0,141.0" stroke="#98b070" stroke-width="0.77" stroke-opacity="0.8"/>
<path d="M111.3,85.0 C110.6,86.2 108.3,89.5 107.0,92.0 C105.7,94.5 105.1,96.7 103.7,100.3 C102.3,103.9 99.7,109.7 98.6,113.8 C97.5,117.9 97.3,120.5 96.9,125.0 C96.5,129.5 96.2,138.3 96.0,141.0" stroke="#d8b278" stroke-width="1.02" stroke-opacity="0.8"/>
<path d="M111.3,120.6 C110.2,120.9 106.8,121.9 105.0,122.5 C103.2,123.1 102.0,123.1 100.3,124.0 C98.6,124.9 96.7,126.3 95.0,128.0 C93.3,129.7 91.3,131.8 90.0,134.0 C88.7,136.2 87.5,139.8 87.0,141.0" stroke="#d8b278" stroke-width="0.94" stroke-opacity="0.8"/>
<path d="M92.7,80.0 C92.3,81.7 90.9,87.2 90.5,90.0 C90.1,92.8 90.4,93.7 90.2,97.0 C90.0,100.3 89.7,105.3 89.5,110.0 C89.3,114.7 89.4,119.8 89.3,125.0 C89.2,130.2 89.0,138.3 89.0,141.0" stroke="#72983c" stroke-width="0.94" stroke-opacity="0.8"/>
<path d="M80.0,86.8 C81.1,88.5 84.8,93.0 86.8,97.0 C88.8,101.0 90.7,105.8 91.8,110.5 C92.9,115.2 93.1,119.9 93.5,125.0 C93.9,130.1 93.9,138.3 94.0,141.0" stroke="#72983c" stroke-width="0.94" stroke-opacity="0.8"/>
<path d="M2.0,114.0 C2.8,114.5 5.3,116.2 7.0,117.0 C8.7,117.8 10.2,117.7 12.0,119.0 C13.8,120.3 17.0,124.0 18.0,125.0" stroke="#d8b278" stroke-width="0.77" stroke-opacity="0.8"/>
<path d="M2.0,128.0 C3.0,128.3 6.0,129.2 8.0,130.0 C10.0,130.8 12.0,131.7 14.0,133.0 C16.0,134.3 19.0,137.2 20.0,138.0" stroke="#d8b278" stroke-width="0.77" stroke-opacity="0.8"/>
<path d="M34.8,37.0 C35.7,39.5 38.9,46.5 40.4,52.0 C41.9,57.5 42.9,63.7 44.0,70.0 C45.1,76.3 46.5,86.7 47.0,90.0" stroke="#98b070" stroke-width="0.68" stroke-opacity="0.64"/>
</g>
<g fill="none" stroke-linecap="round" stroke-linejoin="round">
<path d="M14.3,143.4 C14.2,143.9 14.2,145.4 13.9,146.3 C13.7,147.2 12.9,148.0 12.8,149.0 C12.7,150.0 13.2,151.0 13.5,152.0 C13.7,153.0 14.0,154.1 14.3,155.0 C14.6,155.9 15.2,156.4 15.6,157.2 C15.9,157.9 16.1,158.8 16.5,159.5 C16.9,160.2 17.4,160.6 17.9,161.2 C18.4,161.7 19.0,162.0 19.5,162.6 C20.0,163.2 20.4,163.9 20.9,164.6 C21.4,165.2 22.0,165.6 22.6,166.3 C23.2,167.0 23.9,167.8 24.3,168.7 C24.6,169.6 24.5,170.8 24.8,171.6 C25.1,172.4 25.9,172.8 26.2,173.6 C26.4,174.3 26.3,175.6 26.3,176.0" stroke="#553918" stroke-width="2.13"/>
<path d="M21.0,143.4 C20.9,143.9 20.3,145.2 20.2,146.1 C20.1,147.1 20.4,148.0 20.3,149.0 C20.2,150.0 19.8,151.1 19.5,152.1 C19.1,153.1 18.4,154.1 18.0,155.0 C17.6,155.9 17.6,156.7 17.2,157.4 C16.9,158.2 16.3,158.8 15.8,159.5 C15.3,160.2 14.4,160.7 14.0,161.4 C13.6,162.2 13.7,163.1 13.5,164.0 C13.3,164.9 13.0,166.0 12.8,167.0 C12.5,168.0 12.3,169.1 12.0,170.0 C11.7,170.9 11.1,171.4 10.8,172.2 C10.6,172.9 10.7,173.7 10.5,174.6 C10.3,175.5 10.0,176.4 9.8,177.3 C9.5,178.2 9.1,179.6 9.0,180.0" stroke="#553918" stroke-width="2.02"/>
<path d="M24.8,143.4 C24.7,143.9 24.3,145.2 24.2,146.2 C24.1,147.1 23.9,148.0 24.0,149.0 C24.1,150.0 24.7,151.0 24.7,152.0 C24.8,153.0 24.5,153.9 24.5,155.0 C24.5,156.1 24.6,157.4 24.7,158.5 C24.8,159.7 25.2,160.7 25.3,162.0 C25.4,163.3 25.2,164.7 25.4,166.1 C25.6,167.4 26.3,168.6 26.5,170.0 C26.7,171.4 26.6,173.0 26.7,174.5 C26.8,176.0 27.0,178.3 27.0,179.0" stroke="#553918" stroke-width="1.57"/>
<path d="M19.5,144.0 C19.4,144.5 19.2,146.2 19.2,147.2 C19.2,148.3 19.2,149.4 19.5,150.5 C19.8,151.6 20.8,153.4 21.0,154.0" stroke="#9c7c4c" stroke-width="1.23"/>
<path d="M27.0,155.0 C27.3,155.0 28.4,155.1 29.0,155.0 C29.7,154.9 30.3,154.7 31.0,154.5 C31.7,154.3 32.6,153.8 33.5,153.8 C34.3,153.8 35.6,154.2 36.0,154.3" stroke="#9c7c4c" stroke-width="1.34"/>
<path d="M30.0,156.0 C30.0,156.7 29.9,158.7 30.0,160.0 C30.2,161.4 30.6,162.8 30.8,164.0 C31.0,165.2 30.9,166.0 31.1,167.0 C31.2,168.0 31.6,169.0 31.6,170.0 C31.6,171.0 31.3,172.1 31.1,173.1 C30.8,174.1 29.7,175.1 30.0,176.0 C30.3,176.9 32.5,178.0 33.0,178.4" stroke="#9c7c4c" stroke-width="1.34"/>
<path d="M36.8,143.4 C36.8,143.9 37.2,145.4 37.0,146.3 C36.9,147.2 36.4,148.1 36.0,149.0 C35.6,149.9 35.0,150.9 34.8,151.9 C34.6,152.9 34.4,154.1 34.6,155.0 C34.8,155.9 35.4,156.5 35.7,157.2 C36.1,158.0 36.4,158.7 36.8,159.5 C37.2,160.3 37.5,161.2 38.0,161.9 C38.5,162.7 39.3,163.3 39.8,164.0 C40.3,164.7 40.4,165.6 40.9,166.2 C41.5,166.9 42.2,167.2 42.9,167.8 C43.6,168.4 44.6,169.6 45.0,170.0" stroke="#553918" stroke-width="2.02"/>
<path d="M44.4,143.4 C44.0,143.8 42.9,145.1 42.3,146.0 C41.6,147.0 41.2,148.0 40.6,149.0 C40.0,150.0 39.3,150.8 38.9,151.8 C38.5,152.8 38.4,154.0 38.3,155.0 C38.2,156.0 38.2,157.0 38.1,158.0 C38.0,159.0 37.7,160.5 37.6,161.0" stroke="#553918" stroke-width="1.68"/>
<path d="M39.0,159.5 C39.8,159.5 42.0,159.7 43.5,159.6 C45.0,159.5 46.8,158.9 48.0,158.8 C49.2,158.7 50.0,159.0 51.0,159.1 C52.0,159.2 53.0,159.5 54.0,159.5 C55.0,159.5 56.1,159.6 57.1,159.3 C58.1,159.1 59.2,158.4 60.0,158.0 C60.8,157.6 61.5,157.2 61.8,157.0" stroke="#553918" stroke-width="2.02"/>
<path d="M56.4,143.4 C56.4,143.9 56.1,145.3 56.2,146.3 C56.3,147.2 56.5,148.4 57.0,149.0 C57.5,149.6 58.4,149.6 58.9,150.1 C59.4,150.6 59.8,151.7 60.0,152.0" stroke="#553918" stroke-width="1.68"/>
<path d="M48.0,162.6 C48.2,163.2 49.0,165.0 49.3,166.2 C49.6,167.4 49.2,168.9 49.6,170.0 C50.0,171.1 51.0,171.8 51.5,172.8 C52.0,173.8 52.4,175.0 52.6,176.0 C52.8,177.0 52.4,178.1 52.7,179.1 C52.9,180.0 53.8,180.8 54.0,181.8 C54.2,182.8 54.1,184.0 54.1,185.2 C54.1,186.3 53.9,187.2 54.0,188.5 C54.1,189.8 54.4,191.4 54.7,192.8 C55.0,194.2 55.5,196.3 55.7,197.0" stroke="#74542a" stroke-width="1.46"/>
<path d="M4.5,166.3 C4.9,166.2 6.0,165.8 6.7,165.7 C7.5,165.6 8.6,165.6 9.0,165.6" stroke="#74542a" stroke-width="1.23"/>
<path d="M7.5,170.0 C7.4,170.4 7.0,171.5 6.7,172.3 C6.5,173.1 6.2,173.8 6.0,174.6 C5.8,175.4 5.7,176.4 5.4,177.3 C5.2,178.2 5.0,179.0 4.5,180.0 C4.0,181.0 2.8,182.8 2.5,183.4" stroke="#553918" stroke-width="1.79"/>
<path d="M39.0,167.0 C39.3,167.6 40.2,169.5 40.7,170.7 C41.2,172.0 41.7,173.9 42.0,174.6 C42.3,175.3 42.3,174.1 42.2,175.0 C42.1,175.9 41.8,178.3 41.7,180.0 C41.5,181.7 41.3,183.6 41.4,185.0 C41.5,186.4 42.1,187.4 42.5,188.5 C43.0,189.7 43.7,191.0 43.9,192.0 C44.1,193.0 43.6,193.8 43.8,194.6 C43.9,195.4 44.5,196.0 44.8,197.0 C45.1,198.0 45.1,199.3 45.4,200.4 C45.7,201.5 46.1,202.7 46.5,203.7 C46.9,204.7 47.1,205.7 47.6,206.6 C48.2,207.4 49.4,208.4 49.8,208.8" stroke="#9c7c4c" stroke-width="1.34"/>
<path d="M54.0,165.6 C54.2,166.0 54.6,167.3 55.1,168.1 C55.6,168.8 56.5,169.2 57.0,170.0 C57.5,170.8 57.4,171.9 57.9,172.7 C58.4,173.4 59.7,174.3 60.0,174.6" stroke="#553918" stroke-width="1.57"/>
<path d="M16.9,175.0 C17.0,175.6 17.2,177.3 17.5,178.5 C17.8,179.6 18.1,180.7 18.6,181.8 C19.1,182.9 20.2,183.8 20.7,184.9 C21.3,186.1 21.6,187.6 22.0,188.5 C22.4,189.4 22.4,190.0 22.8,190.5 C23.3,191.1 24.2,191.8 24.5,192.0" stroke="#553918" stroke-width="2.91"/>
<path d="M27.0,178.0 C26.7,178.3 25.6,179.0 25.2,179.7 C24.8,180.3 25.0,181.1 24.5,182.0 C24.0,182.9 22.9,184.0 22.3,185.0 C21.7,186.0 21.2,187.5 21.0,188.0" stroke="#9c7c4c" stroke-width="1.34"/>
<path d="M11.8,180.0 C11.5,180.4 10.5,181.4 10.1,182.3 C9.8,183.1 9.8,184.1 9.5,185.0 C9.2,185.9 8.8,186.7 8.5,187.6 C8.1,188.4 7.7,189.8 7.6,190.2" stroke="#553918" stroke-width="2.02"/>
<path d="M11.0,183.4 C11.2,183.9 11.7,185.4 12.2,186.3 C12.7,187.3 13.4,188.1 14.0,189.0 C14.6,189.9 15.3,190.9 15.8,192.0 C16.3,193.0 16.5,194.4 16.9,195.3 C17.3,196.2 17.7,196.7 18.3,197.3 C18.8,197.8 19.8,197.7 20.3,198.6 C20.8,199.5 21.0,201.4 21.5,202.8 C21.9,204.2 22.2,205.6 22.8,207.0 C23.4,208.4 24.5,209.7 25.2,211.1 C25.9,212.5 26.7,214.8 27.0,215.5" stroke="#553918" stroke-width="1.57"/>
<path d="M20.3,198.6 C20.1,199.1 19.7,200.6 19.1,201.5 C18.5,202.3 17.6,202.9 16.9,203.7 C16.2,204.5 15.6,205.2 15.2,206.0 C14.8,206.9 14.7,208.0 14.4,208.8 C14.1,209.6 13.4,210.1 13.3,210.8 C13.1,211.5 13.5,212.6 13.5,213.0" stroke="#74542a" stroke-width="1.34"/>
<path d="M11.8,210.5 C12.2,210.2 13.6,208.8 14.4,208.8 C15.2,208.8 16.5,210.2 16.9,210.5" stroke="#74542a" stroke-width="1.12"/>
<path d="M25.3,175.0 C25.5,175.4 26.4,176.5 26.7,177.3 C27.0,178.1 26.6,179.2 27.0,180.0 C27.4,180.8 28.1,181.5 28.8,182.0 C29.5,182.6 30.4,182.7 31.2,183.4 C32.0,184.1 33.0,185.3 33.8,186.3 C34.7,187.3 35.9,188.9 36.3,189.4" stroke="#553918" stroke-width="2.13"/>
<path d="M28.7,176.7 C28.3,177.4 27.4,179.7 26.6,181.1 C25.7,182.5 24.2,183.8 23.6,185.0 C23.0,186.2 23.3,187.4 23.1,188.6 C22.8,189.7 22.2,191.4 22.0,192.0" stroke="#553918" stroke-width="1.46"/>
<path d="M47.3,181.8 C47.3,182.2 47.2,183.5 47.3,184.4 C47.5,185.2 48.0,186.4 48.1,186.8" stroke="#74542a" stroke-width="1.23"/>
<path d="M43.0,188.5 C42.8,189.1 42.2,190.7 42.1,191.8 C41.9,193.0 42.2,194.7 42.2,195.3" stroke="#74542a" stroke-width="1.12"/>
<path d="M55.0,144.5 C55.3,144.8 56.5,145.6 57.0,146.4 C57.5,147.1 57.6,148.2 58.0,149.0 C58.4,149.8 58.9,150.6 59.4,151.3 C59.9,152.1 60.7,152.6 61.0,153.5 C61.3,154.4 61.1,155.7 60.9,156.7 C60.6,157.7 60.0,158.7 59.5,159.5 C59.0,160.3 58.2,160.8 57.7,161.6 C57.2,162.3 56.5,163.3 56.5,164.0 C56.5,164.7 57.2,165.2 57.5,165.8 C57.7,166.4 57.6,167.2 58.0,167.8 C58.4,168.4 59.0,169.0 59.6,169.4 C60.3,169.7 61.4,169.9 61.8,170.0" stroke="#553918" stroke-width="1.9"/>
<path d="M74.5,143.4 C74.0,143.7 72.5,144.3 71.8,145.0 C71.0,145.6 70.6,146.7 70.0,147.5 C69.4,148.3 68.8,149.0 68.1,149.7 C67.5,150.5 66.8,151.3 66.3,152.0 C65.8,152.7 65.3,153.4 65.2,154.1 C65.1,154.9 65.2,155.6 65.5,156.5 C65.8,157.4 66.7,158.4 67.2,159.4 C67.7,160.4 68.1,161.6 68.5,162.6 C68.9,163.6 69.4,164.5 69.5,165.5 C69.6,166.5 69.5,167.7 69.3,168.6 C69.1,169.5 68.7,170.0 68.4,170.8 C68.2,171.5 67.9,172.6 67.8,173.0" stroke="#553918" stroke-width="2.02"/>
<path d="M78.3,143.4 C78.4,143.8 79.1,145.2 79.0,146.0 C78.9,146.8 78.2,147.5 77.6,148.0 C76.9,148.5 75.7,148.8 75.3,149.0" stroke="#553918" stroke-width="1.57"/>
<path d="M88.8,153.5 C88.4,153.8 87.2,154.7 86.4,155.0 C85.5,155.4 84.6,155.3 83.6,155.8 C82.6,156.3 81.7,157.1 80.7,157.8 C79.7,158.4 78.4,158.9 77.6,159.5 C76.8,160.1 76.2,160.9 75.6,161.7 C74.9,162.4 74.2,163.1 73.8,164.0 C73.4,164.9 73.5,166.2 73.1,167.2 C72.7,168.2 71.8,169.5 71.5,170.0" stroke="#9c7c4c" stroke-width="2.35"/>
<path d="M89.6,143.4 C89.6,144.3 90.0,146.8 89.8,148.5 C89.7,150.2 89.5,152.0 88.8,153.5 C88.1,155.0 86.6,156.3 85.8,157.8 C84.9,159.3 84.3,161.2 83.6,162.6 C82.9,164.0 82.3,165.2 81.5,166.4 C80.8,167.7 79.8,168.8 79.0,170.0 C78.2,171.2 77.2,172.3 76.6,173.5 C76.0,174.8 75.5,176.3 75.3,177.6 C75.1,178.9 75.3,180.0 75.6,181.1 C75.9,182.2 76.3,183.1 77.0,184.3 C77.7,185.5 78.8,186.8 79.6,188.1 C80.5,189.3 81.2,190.8 82.0,192.0 C82.8,193.2 83.7,194.2 84.6,195.3 C85.4,196.4 86.4,197.4 87.1,198.6 C87.8,199.8 88.2,201.2 88.8,202.5 C89.3,203.7 90.2,205.7 90.5,206.3" stroke="#553918" stroke-width="2.02"/>
<path d="M91.0,143.4 C90.9,144.4 90.6,147.3 90.4,149.2 C90.3,151.1 90.5,153.4 90.3,155.0 C90.1,156.6 89.7,157.5 89.4,158.8 C89.2,160.0 88.9,161.3 88.8,162.6 C88.7,163.9 89.0,165.1 89.1,166.3 C89.3,167.5 89.4,168.5 89.6,170.0 C89.8,171.5 89.9,173.4 90.1,175.0 C90.4,176.7 91.2,178.9 91.0,180.0 C90.8,181.1 89.0,180.8 88.8,181.8 C88.6,182.8 89.4,184.8 89.9,186.2 C90.5,187.6 91.5,189.1 92.2,190.2 C92.9,191.3 93.6,191.9 94.3,192.8 C95.0,193.6 95.9,194.3 96.4,195.3 C96.9,196.3 96.6,197.6 97.2,198.6 C97.8,199.6 99.0,200.5 99.8,201.5 C100.7,202.5 101.6,203.6 102.3,204.6 C103.0,205.6 103.4,206.7 104.1,207.7 C104.8,208.7 106.1,210.0 106.5,210.5" stroke="#74542a" stroke-width="1.34"/>
<path d="M94.0,143.4 C94.1,143.9 94.6,145.2 94.8,146.1 C94.9,147.1 94.8,148.0 94.8,149.0 C94.8,150.0 94.8,151.0 94.7,152.0 C94.5,153.0 94.1,154.0 94.0,155.0 C93.9,156.0 93.9,157.2 94.2,158.2 C94.4,159.2 95.1,160.0 95.6,161.0 C96.1,162.0 96.6,163.0 97.1,164.0 C97.6,165.0 98.1,166.2 98.6,167.0 C99.1,167.8 99.5,168.3 100.0,168.9 C100.5,169.6 101.3,170.5 101.6,170.8" stroke="#553918" stroke-width="2.13"/>
<path d="M76.1,184.3 C75.7,184.3 74.3,184.7 73.4,184.5 C72.6,184.4 71.6,183.3 71.0,183.4 C70.4,183.5 70.3,184.6 69.8,185.2 C69.4,185.7 69.0,186.3 68.5,186.8 C68.0,187.3 67.3,187.9 66.7,188.4 C66.2,189.0 65.4,189.9 65.1,190.2" stroke="#553918" stroke-width="1.79"/>
<path d="M77.0,186.8 C76.6,187.6 75.5,190.0 74.5,191.4 C73.5,192.9 72.0,194.1 71.0,195.3 C70.0,196.5 69.5,197.4 68.8,198.6 C68.1,199.7 67.4,201.0 66.8,202.0 C66.2,203.0 65.8,203.6 65.4,204.4 C65.0,205.3 64.5,206.6 64.3,207.0" stroke="#553918" stroke-width="1.79"/>
<path d="M80.3,192.0 C80.1,192.6 79.8,194.5 79.2,195.6 C78.7,196.7 77.5,197.5 77.0,198.6 C76.5,199.7 76.3,200.8 76.0,202.0 C75.7,203.1 75.5,204.3 75.3,205.4 C75.1,206.5 74.8,207.4 74.5,208.4 C74.2,209.3 73.7,210.8 73.6,211.3" stroke="#74542a" stroke-width="1.34"/>
<path d="M56.7,186.0 C56.7,186.5 56.4,188.0 56.4,189.0 C56.4,190.0 56.7,191.5 56.7,192.0" stroke="#74542a" stroke-width="1.12"/>
</g>
<line x1="2.8" x2="574.5" y1="142.7" y2="142.7" stroke="#b0b0b2" stroke-width="2"/>
<line x1="567.5" x2="567.5" y1="146" y2="266" stroke="#f1f1f1" stroke-width="1"/>
<rect x="147.30" y="26.00" width="48.30" height="17.00" fill="#c5c5c5"/>
<text x="172.65" y="37.10" font-size="6.1" font-weight="bold" fill="#fff" text-anchor="middle">Leaf C</text>
<rect x="147.30" y="46.40" width="48.30" height="70.50" fill="#fff" stroke="#e2e2e2" stroke-width="1.2"/>
<line x1="142.30" x2="146.80" y1="50.50" y2="50.50" stroke="#000" stroke-width="1.4"/>
<text x="139.00" y="52.80" font-size="6.6" font-weight="bold" text-anchor="end" textLength="6.84" lengthAdjust="spacingAndGlyphs">80</text>
<line x1="142.30" x2="146.80" y1="66.30" y2="66.30" stroke="#000" stroke-width="1.4"/>
<text x="139.00" y="68.60" font-size="6.6" font-weight="bold" text-anchor="end" textLength="6.84" lengthAdjust="spacingAndGlyphs">60</text>
<line x1="142.30" x2="146.80" y1="81.90" y2="81.90" stroke="#000" stroke-width="1.4"/>
<text x="139.00" y="84.20" font-size="6.6" font-weight="bold" text-anchor="end" textLength="6.84" lengthAdjust="spacingAndGlyphs">40</text>
<line x1="142.30" x2="146.80" y1="97.90" y2="97.90" stroke="#000" stroke-width="1.4"/>
<text x="139.00" y="100.20" font-size="6.6" font-weight="bold" text-anchor="end" textLength="6.84" lengthAdjust="spacingAndGlyphs">20</text>
<line x1="142.30" x2="146.80" y1="113.70" y2="113.70" stroke="#000" stroke-width="1.4"/>
<text x="139.00" y="116.00" font-size="6.6" font-weight="bold" text-anchor="end" textLength="3.42" lengthAdjust="spacingAndGlyphs">0</text>
<line x1="160.35" x2="160.35" y1="117.30" y2="121.20" stroke="#000" stroke-width="1.3"/>
<text x="160.35" y="131.60" font-size="9.1" font-weight="bold" text-anchor="middle">K</text>
<line x1="182.50" x2="182.50" y1="117.30" y2="121.20" stroke="#000" stroke-width="1.3"/>
<text x="182.50" y="131.60" font-size="9.1" font-weight="bold" text-anchor="middle">Z</text>
<rect x="151.95" y="89.70" width="16.80" height="24.20" fill="#ffa500" stroke="#000" stroke-width="1.7" stroke-linejoin="round"/>
<line x1="160.35" x2="160.35" y1="84.10" y2="95.50" stroke="#000" stroke-width="2.3"/>
<rect x="174.10" y="54.60" width="16.80" height="59.30" fill="#add8e6" stroke="#000" stroke-width="1.7" stroke-linejoin="round"/>
<line x1="182.50" x2="182.50" y1="49.00" y2="60.30" stroke="#000" stroke-width="2.3"/>
<rect x="222.80" y="26.00" width="48.30" height="17.00" fill="#c5c5c5"/>
<text x="248.15" y="37.10" font-size="6.1" font-weight="bold" fill="#fff" text-anchor="middle">Litter C</text>
<rect x="222.80" y="46.40" width="48.30" height="70.50" fill="#fff" stroke="#e2e2e2" stroke-width="1.2"/>
<line x1="217.80" x2="222.30" y1="47.40" y2="47.40" stroke="#000" stroke-width="1.4"/>
<text x="214.50" y="49.70" font-size="6.6" font-weight="bold" text-anchor="end" textLength="10.26" lengthAdjust="spacingAndGlyphs">150</text>
<line x1="217.80" x2="222.30" y1="69.60" y2="69.60" stroke="#000" stroke-width="1.4"/>
<text x="214.50" y="71.90" font-size="6.6" font-weight="bold" text-anchor="end" textLength="10.26" lengthAdjust="spacingAndGlyphs">100</text>
<line x1="217.80" x2="222.30" y1="91.80" y2="91.80" stroke="#000" stroke-width="1.4"/>
<text x="214.50" y="94.10" font-size="6.6" font-weight="bold" text-anchor="end" textLength="6.84" lengthAdjust="spacingAndGlyphs">50</text>
<line x1="217.80" x2="222.30" y1="113.70" y2="113.70" stroke="#000" stroke-width="1.4"/>
<text x="214.50" y="116.00" font-size="6.6" font-weight="bold" text-anchor="end" textLength="3.42" lengthAdjust="spacingAndGlyphs">0</text>
<line x1="235.80" x2="235.80" y1="117.30" y2="121.20" stroke="#000" stroke-width="1.3"/>
<text x="235.80" y="131.60" font-size="9.1" font-weight="bold" text-anchor="middle">K</text>
<line x1="257.90" x2="257.90" y1="117.30" y2="121.20" stroke="#000" stroke-width="1.3"/>
<text x="257.90" y="131.60" font-size="9.1" font-weight="bold" text-anchor="middle">Z</text>
<rect x="227.40" y="84.10" width="16.80" height="29.80" fill="#ffa500" stroke="#000" stroke-width="1.7" stroke-linejoin="round"/>
<line x1="235.80" x2="235.80" y1="74.30" y2="94.00" stroke="#000" stroke-width="2.3"/>
<rect x="249.50" y="66.30" width="16.80" height="47.60" fill="#add8e6" stroke="#000" stroke-width="1.7" stroke-linejoin="round"/>
<line x1="257.90" x2="257.90" y1="49.00" y2="83.10" stroke="#000" stroke-width="2.3"/>
<rect x="294.60" y="26.00" width="48.30" height="17.00" fill="#c5c5c5"/>
<text x="319.95" y="37.10" font-size="6.1" font-weight="bold" fill="#fff" text-anchor="middle">Leaf C:N</text>
<rect x="294.60" y="46.40" width="48.30" height="70.50" fill="#fff" stroke="#e2e2e2" stroke-width="1.2"/>
<line x1="289.60" x2="294.10" y1="59.30" y2="59.30" stroke="#000" stroke-width="1.4"/>
<text x="286.30" y="61.60" font-size="6.6" font-weight="bold" text-anchor="end" textLength="6.84" lengthAdjust="spacingAndGlyphs">30</text>
<line x1="289.60" x2="294.10" y1="77.30" y2="77.30" stroke="#000" stroke-width="1.4"/>
<text x="286.30" y="79.60" font-size="6.6" font-weight="bold" text-anchor="end" textLength="6.84" lengthAdjust="spacingAndGlyphs">20</text>
<line x1="289.60" x2="294.10" y1="95.50" y2="95.50" stroke="#000" stroke-width="1.4"/>
<text x="286.30" y="97.80" font-size="6.6" font-weight="bold" text-anchor="end" textLength="6.84" lengthAdjust="spacingAndGlyphs">10</text>
<line x1="289.60" x2="294.10" y1="113.50" y2="113.50" stroke="#000" stroke-width="1.4"/>
<text x="286.30" y="115.80" font-size="6.6" font-weight="bold" text-anchor="end" textLength="3.42" lengthAdjust="spacingAndGlyphs">0</text>
<line x1="308.00" x2="308.00" y1="117.30" y2="121.20" stroke="#000" stroke-width="1.3"/>
<text x="308.00" y="131.60" font-size="9.1" font-weight="bold" text-anchor="middle">K</text>
<line x1="330.25" x2="330.25" y1="117.30" y2="121.20" stroke="#000" stroke-width="1.3"/>
<text x="330.25" y="131.60" font-size="9.1" font-weight="bold" text-anchor="middle">Z</text>
<rect x="299.60" y="52.80" width="16.80" height="60.90" fill="#ffa500" stroke="#000" stroke-width="1.7" stroke-linejoin="round"/>
<line x1="308.00" x2="308.00" y1="49.30" y2="56.20" stroke="#000" stroke-width="2.3"/>
<rect x="321.85" y="74.60" width="16.80" height="39.10" fill="#add8e6" stroke="#000" stroke-width="1.7" stroke-linejoin="round"/>
<line x1="330.25" x2="330.25" y1="71.30" y2="78.00" stroke="#000" stroke-width="2.3"/>
<rect x="364.00" y="26.00" width="48.20" height="17.00" fill="#c5c5c5"/>
<text x="389.30" y="37.10" font-size="6.1" font-weight="bold" fill="#fff" text-anchor="middle">Leaf N</text>
<rect x="364.00" y="46.40" width="48.20" height="70.50" fill="#fff" stroke="#e2e2e2" stroke-width="1.2"/>
<line x1="359.00" x2="363.50" y1="50.80" y2="50.80" stroke="#000" stroke-width="1.4"/>
<text x="355.70" y="53.10" font-size="6.6" font-weight="bold" text-anchor="end" textLength="3.42" lengthAdjust="spacingAndGlyphs">3</text>
<line x1="359.00" x2="363.50" y1="71.60" y2="71.60" stroke="#000" stroke-width="1.4"/>
<text x="355.70" y="73.90" font-size="6.6" font-weight="bold" text-anchor="end" textLength="3.42" lengthAdjust="spacingAndGlyphs">2</text>
<line x1="359.00" x2="363.50" y1="92.60" y2="92.60" stroke="#000" stroke-width="1.4"/>
<text x="355.70" y="94.90" font-size="6.6" font-weight="bold" text-anchor="end" textLength="3.42" lengthAdjust="spacingAndGlyphs">1</text>
<line x1="359.00" x2="363.50" y1="113.40" y2="113.40" stroke="#000" stroke-width="1.4"/>
<text x="355.70" y="115.70" font-size="6.6" font-weight="bold" text-anchor="end" textLength="3.42" lengthAdjust="spacingAndGlyphs">0</text>
<line x1="376.70" x2="376.70" y1="117.30" y2="121.20" stroke="#000" stroke-width="1.3"/>
<text x="376.70" y="131.60" font-size="9.1" font-weight="bold" text-anchor="middle">K</text>
<line x1="399.25" x2="399.25" y1="117.30" y2="121.20" stroke="#000" stroke-width="1.3"/>
<text x="399.25" y="131.60" font-size="9.1" font-weight="bold" text-anchor="middle">Z</text>
<rect x="368.30" y="79.40" width="16.80" height="34.20" fill="#ffa500" stroke="#000" stroke-width="1.7" stroke-linejoin="round"/>
<line x1="376.70" x2="376.70" y1="71.60" y2="87.20" stroke="#000" stroke-width="2.3"/>
<rect x="390.85" y="55.50" width="16.80" height="58.10" fill="#add8e6" stroke="#000" stroke-width="1.7" stroke-linejoin="round"/>
<line x1="399.25" x2="399.25" y1="49.30" y2="62.30" stroke="#000" stroke-width="2.3"/>
<rect x="436.50" y="26.00" width="48.50" height="17.00" fill="#c5c5c5"/>
<text x="461.95" y="37.10" font-size="6.1" font-weight="bold" fill="#fff" text-anchor="middle">LMA</text>
<rect x="436.50" y="46.40" width="48.50" height="70.50" fill="#fff" stroke="#e2e2e2" stroke-width="1.2"/>
<line x1="431.50" x2="436.00" y1="56.80" y2="56.80" stroke="#000" stroke-width="1.4"/>
<text x="428.20" y="59.10" font-size="6.6" font-weight="bold" text-anchor="end" textLength="6.84" lengthAdjust="spacingAndGlyphs">60</text>
<line x1="431.50" x2="436.00" y1="75.80" y2="75.80" stroke="#000" stroke-width="1.4"/>
<text x="428.20" y="78.10" font-size="6.6" font-weight="bold" text-anchor="end" textLength="6.84" lengthAdjust="spacingAndGlyphs">40</text>
<line x1="431.50" x2="436.00" y1="94.90" y2="94.90" stroke="#000" stroke-width="1.4"/>
<text x="428.20" y="97.20" font-size="6.6" font-weight="bold" text-anchor="end" textLength="6.84" lengthAdjust="spacingAndGlyphs">20</text>
<line x1="431.50" x2="436.00" y1="113.60" y2="113.60" stroke="#000" stroke-width="1.4"/>
<text x="428.20" y="115.90" font-size="6.6" font-weight="bold" text-anchor="end" textLength="3.42" lengthAdjust="spacingAndGlyphs">0</text>
<line x1="449.00" x2="449.00" y1="117.30" y2="121.20" stroke="#000" stroke-width="1.3"/>
<text x="449.00" y="131.60" font-size="9.1" font-weight="bold" text-anchor="middle">K</text>
<line x1="471.55" x2="471.55" y1="117.30" y2="121.20" stroke="#000" stroke-width="1.3"/>
<text x="471.55" y="131.60" font-size="9.1" font-weight="bold" text-anchor="middle">Z</text>
<rect x="440.60" y="60.30" width="16.80" height="53.50" fill="#ffa500" stroke="#000" stroke-width="1.7" stroke-linejoin="round"/>
<line x1="449.00" x2="449.00" y1="49.30" y2="71.90" stroke="#000" stroke-width="2.3"/>
<rect x="463.15" y="58.00" width="16.80" height="55.80" fill="#add8e6" stroke="#000" stroke-width="1.7" stroke-linejoin="round"/>
<line x1="471.55" x2="471.55" y1="54.30" y2="61.80" stroke="#000" stroke-width="2.3"/>
<rect x="510.00" y="26.00" width="48.40" height="17.00" fill="#c5c5c5"/>
<text x="535.40" y="37.10" font-size="6.1" font-weight="bold" fill="#fff" text-anchor="middle">LAI</text>
<rect x="510.00" y="46.40" width="48.40" height="70.50" fill="#fff" stroke="#e2e2e2" stroke-width="1.2"/>
<line x1="505.00" x2="509.50" y1="68.50" y2="68.50" stroke="#000" stroke-width="1.4"/>
<text x="501.70" y="70.80" font-size="6.6" font-weight="bold" text-anchor="end" textLength="8.55" lengthAdjust="spacingAndGlyphs">1.0</text>
<line x1="505.00" x2="509.50" y1="91.40" y2="91.40" stroke="#000" stroke-width="1.4"/>
<text x="501.70" y="93.70" font-size="6.6" font-weight="bold" text-anchor="end" textLength="8.55" lengthAdjust="spacingAndGlyphs">0.5</text>
<line x1="505.00" x2="509.50" y1="113.50" y2="113.50" stroke="#000" stroke-width="1.4"/>
<text x="501.70" y="115.80" font-size="6.6" font-weight="bold" text-anchor="end" textLength="8.55" lengthAdjust="spacingAndGlyphs">0.0</text>
<line x1="522.60" x2="522.60" y1="117.30" y2="121.20" stroke="#000" stroke-width="1.3"/>
<text x="522.60" y="131.60" font-size="9.1" font-weight="bold" text-anchor="middle">K</text>
<line x1="545.30" x2="545.30" y1="117.30" y2="121.20" stroke="#000" stroke-width="1.3"/>
<text x="545.30" y="131.60" font-size="9.1" font-weight="bold" text-anchor="middle">Z</text>
<rect x="514.20" y="89.70" width="16.80" height="24.00" fill="#ffa500" stroke="#000" stroke-width="1.7" stroke-linejoin="round"/>
<line x1="522.60" x2="522.60" y1="86.20" y2="93.40" stroke="#000" stroke-width="2.3"/>
<rect x="536.90" y="55.50" width="16.80" height="58.20" fill="#add8e6" stroke="#000" stroke-width="1.7" stroke-linejoin="round"/>
<line x1="545.30" x2="545.30" y1="49.30" y2="62.30" stroke="#000" stroke-width="2.3"/>
<rect x="147.20" y="152.30" width="45.70" height="16.50" fill="#c5c5c5"/>
<text x="170.05" y="163.15" font-size="6.1" font-weight="bold" fill="#fff" text-anchor="middle">DOC</text>
<rect x="147.20" y="172.60" width="45.70" height="70.20" fill="#fff" stroke="#e2e2e2" stroke-width="1.2"/>
<line x1="142.20" x2="146.70" y1="195.60" y2="195.60" stroke="#000" stroke-width="1.4"/>
<text x="138.90" y="197.90" font-size="6.6" font-weight="bold" text-anchor="end" textLength="6.84" lengthAdjust="spacingAndGlyphs">20</text>
<line x1="142.20" x2="146.70" y1="221.90" y2="221.90" stroke="#000" stroke-width="1.4"/>
<text x="138.90" y="224.20" font-size="6.6" font-weight="bold" text-anchor="end" textLength="6.84" lengthAdjust="spacingAndGlyphs">10</text>
<line x1="159.60" x2="159.60" y1="243.30" y2="247.60" stroke="#000" stroke-width="1.3"/>
<text x="159.60" y="257.70" font-size="9.1" font-weight="bold" text-anchor="middle">K</text>
<line x1="180.20" x2="180.20" y1="243.30" y2="247.60" stroke="#000" stroke-width="1.3"/>
<text x="180.20" y="257.70" font-size="9.1" font-weight="bold" text-anchor="middle">Z</text>
<line x1="159.60" x2="159.60" y1="227.70" y2="232.90" stroke="#000" stroke-width="1.2"/>
<line x1="159.60" x2="159.60" y1="235.90" y2="239.60" stroke="#000" stroke-width="1.2"/>
<rect x="151.70" y="232.90" width="15.80" height="3.00" fill="#ffa500" stroke="#000" stroke-width="1.6" stroke-linejoin="round"/>
<line x1="151.70" x2="167.50" y1="235.20" y2="235.20" stroke="#000" stroke-width="2.4"/>
<line x1="180.20" x2="180.20" y1="176.00" y2="204.20" stroke="#000" stroke-width="1.2"/>
<line x1="180.20" x2="180.20" y1="226.80" y2="233.00" stroke="#000" stroke-width="1.2"/>
<rect x="172.30" y="204.20" width="15.80" height="22.60" fill="#add8e6" stroke="#000" stroke-width="1.6" stroke-linejoin="round"/>
<line x1="172.30" x2="188.10" y1="219.10" y2="219.10" stroke="#000" stroke-width="2.4"/>
<rect x="218.40" y="152.30" width="44.60" height="16.50" fill="#c5c5c5"/>
<text x="240.70" y="163.15" font-size="6.1" font-weight="bold" fill="#fff" text-anchor="middle">DON</text>
<rect x="218.40" y="172.60" width="44.60" height="70.20" fill="#fff" stroke="#e2e2e2" stroke-width="1.2"/>
<line x1="213.40" x2="217.90" y1="189.80" y2="189.80" stroke="#000" stroke-width="1.4"/>
<text x="210.10" y="192.10" font-size="6.6" font-weight="bold" text-anchor="end" textLength="8.55" lengthAdjust="spacingAndGlyphs">1.2</text>
<line x1="213.40" x2="217.90" y1="207.80" y2="207.80" stroke="#000" stroke-width="1.4"/>
<text x="210.10" y="210.10" font-size="6.6" font-weight="bold" text-anchor="end" textLength="8.55" lengthAdjust="spacingAndGlyphs">0.8</text>
<line x1="213.40" x2="217.90" y1="225.10" y2="225.10" stroke="#000" stroke-width="1.4"/>
<text x="210.10" y="227.40" font-size="6.6" font-weight="bold" text-anchor="end" textLength="8.55" lengthAdjust="spacingAndGlyphs">0.4</text>
<line x1="213.40" x2="217.90" y1="242.50" y2="242.50" stroke="#000" stroke-width="1.4"/>
<text x="210.10" y="244.80" font-size="6.6" font-weight="bold" text-anchor="end" textLength="8.55" lengthAdjust="spacingAndGlyphs">0.0</text>
<line x1="230.20" x2="230.20" y1="243.30" y2="247.60" stroke="#000" stroke-width="1.3"/>
<text x="230.20" y="257.70" font-size="9.1" font-weight="bold" text-anchor="middle">K</text>
<line x1="251.00" x2="251.00" y1="243.30" y2="247.60" stroke="#000" stroke-width="1.3"/>
<text x="251.00" y="257.70" font-size="9.1" font-weight="bold" text-anchor="middle">Z</text>
<line x1="230.20" x2="230.20" y1="226.90" y2="233.00" stroke="#000" stroke-width="1.2"/>
<line x1="230.20" x2="230.20" y1="238.00" y2="239.80" stroke="#000" stroke-width="1.2"/>
<rect x="222.30" y="233.00" width="15.80" height="5.00" fill="#ffa500" stroke="#000" stroke-width="1.6" stroke-linejoin="round"/>
<line x1="222.30" x2="238.10" y1="236.60" y2="236.60" stroke="#000" stroke-width="2.4"/>
<line x1="251.00" x2="251.00" y1="176.30" y2="196.00" stroke="#000" stroke-width="1.2"/>
<line x1="251.00" x2="251.00" y1="216.90" y2="228.60" stroke="#000" stroke-width="1.2"/>
<rect x="243.10" y="196.00" width="15.80" height="20.90" fill="#add8e6" stroke="#000" stroke-width="1.6" stroke-linejoin="round"/>
<line x1="243.10" x2="258.90" y1="211.00" y2="211.00" stroke="#000" stroke-width="2.4"/>
<rect x="295.40" y="152.30" width="45.20" height="16.50" fill="#c5c5c5"/>
<text x="316.70" y="163.15" font-size="6.1" font-weight="bold" fill="#fff" text-anchor="middle">NO<tspan dy="1.8" font-size="3.7">3</tspan><tspan dy="-3.9" font-size="3.7">−</tspan></text>
<rect x="295.40" y="172.60" width="45.20" height="70.20" fill="#fff" stroke="#e2e2e2" stroke-width="1.2"/>
<line x1="290.40" x2="294.90" y1="178.50" y2="178.50" stroke="#000" stroke-width="1.4"/>
<text x="287.10" y="180.80" font-size="6.6" font-weight="bold" text-anchor="end" textLength="15.39" lengthAdjust="spacingAndGlyphs">0.005</text>
<line x1="290.40" x2="294.90" y1="190.40" y2="190.40" stroke="#000" stroke-width="1.4"/>
<text x="287.10" y="192.70" font-size="6.6" font-weight="bold" text-anchor="end" textLength="15.39" lengthAdjust="spacingAndGlyphs">0.004</text>
<line x1="290.40" x2="294.90" y1="203.10" y2="203.10" stroke="#000" stroke-width="1.4"/>
<text x="287.10" y="205.40" font-size="6.6" font-weight="bold" text-anchor="end" textLength="15.39" lengthAdjust="spacingAndGlyphs">0.003</text>
<line x1="290.40" x2="294.90" y1="215.30" y2="215.30" stroke="#000" stroke-width="1.4"/>
<text x="287.10" y="217.60" font-size="6.6" font-weight="bold" text-anchor="end" textLength="15.39" lengthAdjust="spacingAndGlyphs">0.002</text>
<line x1="290.40" x2="294.90" y1="227.90" y2="227.90" stroke="#000" stroke-width="1.4"/>
<text x="287.10" y="230.20" font-size="6.6" font-weight="bold" text-anchor="end" textLength="15.39" lengthAdjust="spacingAndGlyphs">0.001</text>
<line x1="290.40" x2="294.90" y1="240.10" y2="240.10" stroke="#000" stroke-width="1.4"/>
<text x="287.10" y="242.40" font-size="6.6" font-weight="bold" text-anchor="end" textLength="15.39" lengthAdjust="spacingAndGlyphs">0.000</text>
<line x1="307.60" x2="307.60" y1="243.30" y2="247.60" stroke="#000" stroke-width="1.3"/>
<text x="307.60" y="257.70" font-size="9.1" font-weight="bold" text-anchor="middle">K</text>
<line x1="328.80" x2="328.80" y1="243.30" y2="247.60" stroke="#000" stroke-width="1.3"/>
<text x="328.80" y="257.70" font-size="9.1" font-weight="bold" text-anchor="middle">Z</text>
<line x1="307.60" x2="307.60" y1="210.00" y2="224.00" stroke="#000" stroke-width="1.2"/>
<rect x="299.70" y="224.00" width="15.80" height="16.10" fill="#ffa500" stroke="#000" stroke-width="1.6" stroke-linejoin="round"/>
<line x1="299.70" x2="315.50" y1="239.20" y2="239.20" stroke="#000" stroke-width="2.4"/>
<line x1="328.80" x2="328.80" y1="176.30" y2="189.40" stroke="#000" stroke-width="1.2"/>
<line x1="328.80" x2="328.80" y1="223.80" y2="239.40" stroke="#000" stroke-width="1.2"/>
<rect x="320.90" y="189.40" width="15.80" height="34.40" fill="#add8e6" stroke="#000" stroke-width="1.6" stroke-linejoin="round"/>
<line x1="320.90" x2="336.70" y1="213.50" y2="213.50" stroke="#000" stroke-width="2.4"/>
<rect x="369.80" y="152.30" width="45.30" height="16.50" fill="#c5c5c5"/>
<text x="392.45" y="163.15" font-size="6.1" font-weight="bold" fill="#fff" text-anchor="middle">NH<tspan dy="1.8" font-size="3.7">4</tspan><tspan dy="-3.9" font-size="3.7">+</tspan></text>
<rect x="369.80" y="172.60" width="45.30" height="70.20" fill="#fff" stroke="#e2e2e2" stroke-width="1.2"/>
<line x1="364.80" x2="369.30" y1="177.20" y2="177.20" stroke="#000" stroke-width="1.4"/>
<text x="361.50" y="179.50" font-size="6.6" font-weight="bold" text-anchor="end" textLength="11.97" lengthAdjust="spacingAndGlyphs">0.20</text>
<line x1="364.80" x2="369.30" y1="193.20" y2="193.20" stroke="#000" stroke-width="1.4"/>
<text x="361.50" y="195.50" font-size="6.6" font-weight="bold" text-anchor="end" textLength="11.97" lengthAdjust="spacingAndGlyphs">0.15</text>
<line x1="364.80" x2="369.30" y1="208.50" y2="208.50" stroke="#000" stroke-width="1.4"/>
<text x="361.50" y="210.80" font-size="6.6" font-weight="bold" text-anchor="end" textLength="11.97" lengthAdjust="spacingAndGlyphs">0.10</text>
<line x1="364.80" x2="369.30" y1="224.50" y2="224.50" stroke="#000" stroke-width="1.4"/>
<text x="361.50" y="226.80" font-size="6.6" font-weight="bold" text-anchor="end" textLength="11.97" lengthAdjust="spacingAndGlyphs">0.05</text>
<line x1="364.80" x2="369.30" y1="239.90" y2="239.90" stroke="#000" stroke-width="1.4"/>
<text x="361.50" y="242.20" font-size="6.6" font-weight="bold" text-anchor="end" textLength="11.97" lengthAdjust="spacingAndGlyphs">0.00</text>
<line x1="382.00" x2="382.00" y1="243.30" y2="247.60" stroke="#000" stroke-width="1.3"/>
<text x="382.00" y="257.70" font-size="9.1" font-weight="bold" text-anchor="middle">K</text>
<line x1="402.70" x2="402.70" y1="243.30" y2="247.60" stroke="#000" stroke-width="1.3"/>
<text x="402.70" y="257.70" font-size="9.1" font-weight="bold" text-anchor="middle">Z</text>
<line x1="373.50" x2="390.50" y1="239.90" y2="239.90" stroke="#000" stroke-width="2.4"/>
<line x1="402.70" x2="402.70" y1="176.30" y2="199.20" stroke="#000" stroke-width="1.2"/>
<line x1="402.70" x2="402.70" y1="236.40" y2="238.00" stroke="#000" stroke-width="1.2"/>
<rect x="394.40" y="199.20" width="16.60" height="37.20" fill="#add8e6" stroke="#000" stroke-width="1.6" stroke-linejoin="round"/>
<line x1="394.40" x2="411.00" y1="229.60" y2="229.60" stroke="#000" stroke-width="2.4"/>
<rect x="440.50" y="152.30" width="45.00" height="16.50" fill="#c5c5c5"/>
<text x="462.50" y="163.15" font-size="6.1" font-weight="bold" fill="#fff" text-anchor="middle">K<tspan dy="-2.1" font-size="3.7">+</tspan></text>
<rect x="440.50" y="172.60" width="45.00" height="70.20" fill="#fff" stroke="#e2e2e2" stroke-width="1.2"/>
<line x1="435.50" x2="440.00" y1="188.80" y2="188.80" stroke="#000" stroke-width="1.4"/>
<text x="432.20" y="191.10" font-size="6.6" font-weight="bold" text-anchor="end" textLength="8.55" lengthAdjust="spacingAndGlyphs">0.6</text>
<line x1="435.50" x2="440.00" y1="205.40" y2="205.40" stroke="#000" stroke-width="1.4"/>
<text x="432.20" y="207.70" font-size="6.6" font-weight="bold" text-anchor="end" textLength="8.55" lengthAdjust="spacingAndGlyphs">0.4</text>
<line x1="435.50" x2="440.00" y1="222.70" y2="222.70" stroke="#000" stroke-width="1.4"/>
<text x="432.20" y="225.00" font-size="6.6" font-weight="bold" text-anchor="end" textLength="8.55" lengthAdjust="spacingAndGlyphs">0.2</text>
<line x1="435.50" x2="440.00" y1="240.10" y2="240.10" stroke="#000" stroke-width="1.4"/>
<text x="432.20" y="242.40" font-size="6.6" font-weight="bold" text-anchor="end" textLength="8.55" lengthAdjust="spacingAndGlyphs">0.0</text>
<line x1="452.60" x2="452.60" y1="243.30" y2="247.60" stroke="#000" stroke-width="1.3"/>
<text x="452.60" y="257.70" font-size="9.1" font-weight="bold" text-anchor="middle">K</text>
<line x1="473.60" x2="473.60" y1="243.30" y2="247.60" stroke="#000" stroke-width="1.3"/>
<text x="473.60" y="257.70" font-size="9.1" font-weight="bold" text-anchor="middle">Z</text>
<line x1="452.60" x2="452.60" y1="211.40" y2="225.20" stroke="#000" stroke-width="1.2"/>
<rect x="444.70" y="225.20" width="15.80" height="15.10" fill="#ffa500" stroke="#000" stroke-width="1.6" stroke-linejoin="round"/>
<line x1="444.70" x2="460.50" y1="237.40" y2="237.40" stroke="#000" stroke-width="2.4"/>
<line x1="473.60" x2="473.60" y1="176.30" y2="208.60" stroke="#000" stroke-width="1.2"/>
<rect x="465.70" y="208.60" width="15.80" height="31.50" fill="#add8e6" stroke="#000" stroke-width="1.6" stroke-linejoin="round"/>
<line x1="465.70" x2="481.50" y1="224.50" y2="224.50" stroke="#000" stroke-width="2.4"/>
<rect x="512.80" y="152.30" width="45.10" height="16.50" fill="#c5c5c5"/>
<text x="535.35" y="163.15" font-size="6.1" font-weight="bold" fill="#fff" text-anchor="middle">EC</text>
<rect x="512.80" y="172.60" width="45.10" height="70.20" fill="#fff" stroke="#e2e2e2" stroke-width="1.2"/>
<line x1="507.80" x2="512.30" y1="178.10" y2="178.10" stroke="#000" stroke-width="1.4"/>
<text x="504.50" y="180.40" font-size="6.6" font-weight="bold" text-anchor="end" textLength="10.26" lengthAdjust="spacingAndGlyphs">250</text>
<line x1="507.80" x2="512.30" y1="191.30" y2="191.30" stroke="#000" stroke-width="1.4"/>
<text x="504.50" y="193.60" font-size="6.6" font-weight="bold" text-anchor="end" textLength="10.26" lengthAdjust="spacingAndGlyphs">200</text>
<line x1="507.80" x2="512.30" y1="204.80" y2="204.80" stroke="#000" stroke-width="1.4"/>
<text x="504.50" y="207.10" font-size="6.6" font-weight="bold" text-anchor="end" textLength="10.26" lengthAdjust="spacingAndGlyphs">150</text>
<line x1="507.80" x2="512.30" y1="218.10" y2="218.10" stroke="#000" stroke-width="1.4"/>
<text x="504.50" y="220.40" font-size="6.6" font-weight="bold" text-anchor="end" textLength="10.26" lengthAdjust="spacingAndGlyphs">100</text>
<line x1="507.80" x2="512.30" y1="231.80" y2="231.80" stroke="#000" stroke-width="1.4"/>
<text x="504.50" y="234.10" font-size="6.6" font-weight="bold" text-anchor="end" textLength="6.84" lengthAdjust="spacingAndGlyphs">50</text>
<line x1="525.10" x2="525.10" y1="243.30" y2="247.60" stroke="#000" stroke-width="1.3"/>
<text x="525.10" y="257.70" font-size="9.1" font-weight="bold" text-anchor="middle">K</text>
<line x1="545.80" x2="545.80" y1="243.30" y2="247.60" stroke="#000" stroke-width="1.3"/>
<text x="545.80" y="257.70" font-size="9.1" font-weight="bold" text-anchor="middle">Z</text>
<line x1="525.10" x2="525.10" y1="232.30" y2="235.40" stroke="#000" stroke-width="1.2"/>
<line x1="525.10" x2="525.10" y1="237.50" y2="239.50" stroke="#000" stroke-width="1.2"/>
<rect x="517.20" y="235.40" width="15.80" height="2.10" fill="#2a1500" stroke="#000" stroke-width="1.6" stroke-linejoin="round"/>
<line x1="517.20" x2="533.00" y1="236.50" y2="236.50" stroke="#000" stroke-width="2.4"/>
<line x1="545.80" x2="545.80" y1="176.30" y2="191.30" stroke="#000" stroke-width="1.2"/>
<line x1="545.80" x2="545.80" y1="204.40" y2="220.60" stroke="#000" stroke-width="1.2"/>
<rect x="537.90" y="191.30" width="15.80" height="13.10" fill="#add8e6" stroke="#000" stroke-width="1.6" stroke-linejoin="round"/>
<line x1="537.90" x2="553.70" y1="192.60" y2="192.60" stroke="#000" stroke-width="2.4"/>
<text x="148.8" y="52.3" font-size="5.0" font-weight="bold" letter-spacing="0.15" text-anchor="start">g C m<tspan dy="-1.9" font-size="2.9" letter-spacing="0">-2</tspan></text>
<text x="224.3" y="52.3" font-size="5.0" font-weight="bold" letter-spacing="0.15" text-anchor="start">g C m<tspan dy="-1.9" font-size="2.9" letter-spacing="0">-2</tspan></text>
<text x="365.3" y="52.3" font-size="5.0" font-weight="bold" letter-spacing="0.15" text-anchor="start">g N m<tspan dy="-1.9" font-size="2.9" letter-spacing="0">-2</tspan></text>
<text x="365.3" y="58.3" font-size="5.0" font-weight="bold" letter-spacing="0.15" text-anchor="start">leaf area</text>
<text x="481.8" y="52.3" font-size="5.0" font-weight="bold" letter-spacing="0.15" text-anchor="end">g m<tspan dy="-1.9" font-size="2.9" letter-spacing="0">-2</tspan></text>
<text x="511.8" y="52.3" font-size="5.0" font-weight="bold" letter-spacing="0.15" text-anchor="start">m<tspan dy="-1.9" font-size="3.2">2</tspan><tspan dy="1.9"> m</tspan><tspan dy="-1.9" font-size="2.9" letter-spacing="0">-2</tspan></text>
<text x="148.9" y="178.4" font-size="5.0" font-weight="bold" letter-spacing="0.15">ppm</text>
<text x="219.9" y="178.4" font-size="5.0" font-weight="bold" letter-spacing="0.15">ppm</text>
<text x="297.2" y="178.4" font-size="5.0" font-weight="bold" letter-spacing="0.15">ppm</text>
<text x="371.5" y="178.4" font-size="5.0" font-weight="bold" letter-spacing="0.15">ppm</text>
<text x="442.2" y="178.4" font-size="5.0" font-weight="bold" letter-spacing="0.15">ppm</text>
<text x="515.0" y="178.4" font-size="5.0" font-weight="bold" letter-spacing="0.15">µS cm<tspan dy="-1.9" font-size="2.9" letter-spacing="0">-1</tspan></text>
<text x="18.2" y="34.9" font-size="7.5" font-weight="bold">Aboveground domain  (a)</text>
<text x="22" y="245.7" font-size="7.5" font-weight="bold">Belowground domain  (b)</text>
</svg>
</body></html>
